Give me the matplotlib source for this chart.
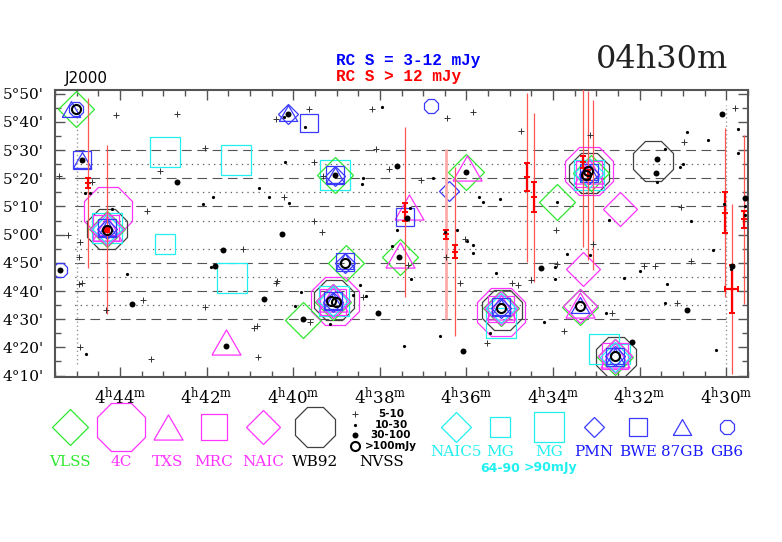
import matplotlib
matplotlib.use('Agg')
import matplotlib.pyplot as plt
from matplotlib.ticker import MultipleLocator, FuncFormatter

plt.rcParams['mathtext.fontset'] = 'dejavuserif'
plt.rcParams['lines.scale_dashes'] = False

# RA in minutes after 4h, Dec in arcmin (5d20' -> 320)
vlss = [(45.02, 344.5), (44.29, 301.9), (39.04, 321.0), (36.01, 322.2), (33.90, 311.5),
        (33.13, 321.8), (39.77, 269.7), (39.08, 276.2), (38.79, 289.8), (37.54, 291.9),
        (35.21, 274.0), (33.38, 274.5), (32.57, 256.7)]
c4 = [(44.27, 308.4), (33.18, 322.7), (39.04, 276.3), (35.20, 272.6)]
wb92 = [(44.29, 302.0), (33.17, 321.7), (31.69, 326.1), (39.06, 276.8), (35.18, 273.4), (32.54, 256.6)]
txs = [(35.99, 323.6), (37.33, 309.8), (41.56, 261.8), (37.54, 292.6), (33.38, 275.0),
       (44.29, 302.5), (39.07, 277.0), (35.21, 274.5), (32.57, 257.3), (33.18, 322.5)]
mrc = [(44.32, 302.2), (39.07, 276.0), (35.21, 273.5), (33.18, 321.5), (32.57, 256.8)]
naic = [(32.46, 309.2), (33.32, 287.9), (44.29, 302.0), (39.07, 276.4), (35.21, 273.8),
        (32.57, 256.8), (33.38, 274.6)]
naic5 = [(44.29, 302.0), (39.07, 276.6), (35.21, 274.0), (33.18, 321.8), (32.57, 256.6)]
mg_64_90 = [(42.95, 296.5), (32.46, 257.8)]
mg_90 = [(42.95, 329.3), (41.31, 326.6), (41.42, 284.6), (39.04, 321.0), (32.82, 259.5),
         (35.21, 268.7), (39.05, 276.5), (33.18, 321.2), (44.29, 302.3)]
pmn = [(40.11, 342.8), (36.41, 315.4), (39.04, 320.8), (44.29, 301.9), (39.07, 276.2),
       (35.21, 274.0), (33.18, 321.6), (32.57, 256.9), (38.80, 290.0)]
bwe = [(44.87, 326.3), (39.63, 339.6), (37.42, 306.1), (39.04, 321.2), (38.80, 290.3),
       (44.29, 302.3), (39.07, 276.6), (35.21, 274.2), (33.18, 321.9), (32.57, 256.5)]
gb87 = [(45.14, 344.5), (44.87, 326.3), (40.11, 343.2), (39.04, 321.3), (38.80, 290.6),
        (44.29, 302.3), (39.07, 276.5), (35.21, 274.3), (33.18, 322.2), (33.38, 274.9), (32.57, 257.1)]
gb6 = [(45.02, 344.5), (36.81, 345.5), (45.38, 287.6)]

# NVSS, by flux class
nvss_5_10 = [(44.10, 342.3), (42.68, 342.8), (42.04, 330.6), (43.08, 322.4), (45.40, 320.8),
             (44.65, 318.7), (43.37, 308.3), (40.40, 341.0), (39.64, 344.6), (38.18, 344.4),
             (36.45, 341.5), (35.85, 343.5), (34.74, 336.8), (33.15, 335.5), (30.98, 332.8),
             (29.81, 345.0), (38.09, 330.2), (39.52, 325.9), (37.79, 323.4), (39.31, 320.8),
             (37.05, 319.4), (39.52, 304.9), (39.33, 300.8), (33.94, 301.7), (31.04, 309.8),
             (45.19, 299.8), (44.92, 297.3), (44.95, 292.1), (44.94, 282.4), (44.88, 282.8),
             (43.46, 276.7), (44.32, 273.2), (44.92, 260.0), (43.29, 255.8), (41.17, 294.8),
             (42.04, 274.2), (40.39, 282.8), (40.37, 283.5), (40.91, 267.0), (40.83, 267.5),
             (40.81, 256.7), (40.21, 313.4), (39.62, 268.9), (38.39, 277.9), (37.36, 289.1),
             (36.48, 292.1), (36.04, 298.3), (36.14, 282.8), (34.96, 282.8), (34.82, 282.0),
             (35.52, 261.6), (33.09, 296.6), (33.92, 289.7), (34.51, 284.0), (33.75, 265.8),
             (32.64, 272.2), (31.91, 288.9), (31.64, 288.9), (30.82, 290.6), (31.15, 275.8)]
nvss_10_30 = [(37.96, 345.1), (39.72, 338.3), (40.21, 341.6), (40.18, 325.6), (38.38, 320.2),
              (38.42, 318.1), (36.77, 320.1), (44.80, 314.6), (44.70, 314.6), (40.78, 316.5),
              (40.56, 313.2), (41.85, 313.2), (42.08, 310.7), (40.09, 311.3), (44.18, 309.1),
              (37.31, 309.4), (37.60, 301.8), (37.72, 296.0), (36.21, 301.7), (36.50, 300.8),
              (35.71, 313.5), (35.62, 311.6), (35.23, 312.5), (31.42, 330.5), (31.61, 318.7),
              (30.90, 336.3), (30.42, 333.5), (29.73, 337.6), (29.73, 328.9), (31.01, 325.0),
              (31.06, 324.0), (33.90, 311.5), (32.71, 305.3), (30.82, 304.9), (30.06, 310.7),
              (29.57, 310.0), (43.83, 285.9), (44.78, 257.6), (41.90, 288.5), (39.96, 274.7),
              (39.81, 279.8), (39.15, 268.2), (38.46, 282.2), (38.62, 278.7), (38.31, 278.4),
              (37.28, 284.4), (37.44, 260.4), (36.61, 263.9), (35.98, 297.6), (35.86, 296.4),
              (35.85, 293.5), (35.32, 286.5), (35.46, 265.1), (33.69, 293.0), (33.15, 292.9),
              (33.96, 288.5), (33.96, 284.4), (34.21, 269.0), (32.79, 272.3), (32.36, 284.6),
              (32.00, 287.1), (31.37, 282.4), (31.42, 275.9), (30.31, 294.6), (30.25, 259.2),
              (29.90, 287.9), (29.57, 306.9)]
nvss_30_100 = [(42.69, 318.5), (37.60, 324.5), (36.01, 322.2), (37.38, 305.8), (40.25, 300.4),
               (39.04, 321.0), (40.11, 342.8), (44.87, 326.3), (45.38, 287.6), (43.72, 275.5),
               (41.61, 294.4), (41.81, 289.0), (40.68, 277.2), (41.56, 260.5), (39.78, 269.9),
               (38.05, 272.1), (37.55, 292.1), (36.09, 258.7), (31.61, 326.7), (31.63, 321.7),
               (30.10, 342.8), (29.58, 312.9), (34.28, 288.2), (30.90, 273.4), (29.86, 289.0),
               (32.18, 261.9)]
nvss_100 = [(45.02, 344.5), (44.29, 301.7), (38.81, 289.9), (39.13, 276.6), (39.02, 276.1),
            (35.21, 274.0), (33.38, 274.6), (32.57, 256.8), (33.19, 322.7), (33.24, 321.0)]

# RATAN RC sources: RA, Dec, Dec error (arcmin)
rc_ra = [44.73, 44.29, 37.42, 36.48, 36.26, 34.61, 34.44, 33.32, 33.19, 33.09, 30.02, 29.88, 29.59]
rc_dec = [318.3, 301.7, 308.0, 300.2, 294.0, 320.4, 313.3, 325.7, 321.1, 317.6, 307.8, 280.7, 305.5]
rc_err = [1.8, 0.6, 3.2, 1.6, 2.3, 5.1, 5.3, 2.1, 1.8, 0.0, 7.4, 8.5, 3.0]
rc_ra_err = [0, 0, 0, 0, 0, 0, 0, 0, 0, 0, 0, 0.15, 0]
rc_faint = [False, False, False, True, False, False, False, False, False, False, False, False, False]
rc_beam = 30.0

strip_dashed = [330, 320, 310, 290, 280, 270]
strip_dotted = [325, 315, 305, 295, 285, 275]

GREEN = '#2ee82e'
MAGENTA = '#ff33ff'
CYAN = '#22f0f0'
BLUE = '#3a3aff'
GREY = '#404040'
TRI = [(-1, -0.866), (1, -0.866), (0, 0.866), (-1, -0.866)]

# name, label, points, marker, size, colour, legend x, label y
catalogs = [
    ('4C', '4C', c4, '8', 37.4, MAGENTA, 121, 462),
    ('WB92', 'WB92', wb92, '8', 30.7, GREY, 315, 462),
    ('MG2', 'MG', mg_90, 's', 21.6, CYAN, 549, 452),
    ('MG1', 'MG', mg_64_90, 's', 14.9, CYAN, 500, 452),
    ('VLSS', 'VLSS', vlss, 'D', 18.3, GREEN, 70, 462),
    ('TXS', 'TXS', txs, TRI, 20.9, MAGENTA, 168, 462),
    ('MRC', 'MRC', mrc, 's', 18.4, MAGENTA, 214, 462),
    ('NAIC', 'NAIC', naic, 'D', 17.0, MAGENTA, 263, 462),
    ('NAIC5', 'NAIC5', naic5, 'D', 15.3, CYAN, 456, 452),
    ('PMN', 'PMN', pmn, 'D', 10.5, BLUE, 594, 452),
    ('BWE', 'BWE', bwe, 's', 12.5, BLUE, 638, 452),
    ('87GB', '87GB', gb87, TRI, 13.2, BLUE, 682, 452),
    ('GB6', 'GB6', gb6, '8', 10.9, BLUE, 727, 452),
]

fig = plt.figure(figsize=(7.82, 5.42), dpi=100)
ax = fig.add_axes([55 / 782, 1 - 377 / 542, 693 / 782, 287 / 542])
ax.set_xlim(45.5, 29.5)
ax.set_ylim(249.5, 351.3)

ax.hlines(strip_dashed, 30.0, 45.05, colors='#555555', linewidth=0.8, linestyles=(0, (7, 4)), zorder=1)
ax.hlines(strip_dotted, 30.0, 45.05, colors='#666666', linewidth=0.9, linestyles=(0, (1, 3)), zorder=1)
ax.vlines([45.0, 30.0], 254, 346, colors='#999999', linewidth=1.0, linestyles=(0, (1, 2)), zorder=1)

for name, label, pts, marker, size, col, lx, ly in catalogs:
    xs = [p[0] for p in pts]
    ys = [p[1] for p in pts]
    ax.plot(xs, ys, linestyle='none', marker=marker, ms=size, mfc='none',
            mec=col, mew=0.9, zorder=2)

for i in range(len(rc_ra)):
    line_col = '#ffaaaa' if rc_faint[i] else '#ff5555'
    ax.vlines(rc_ra[i], rc_dec[i] - rc_beam, rc_dec[i] + rc_beam,
              colors=line_col, linewidth=2.0 if rc_faint[i] else 0.9, zorder=3)
    if rc_err[i] > 0:
        ax.errorbar(rc_ra[i], rc_dec[i], yerr=rc_err[i], xerr=rc_ra_err[i] or None,
                    fmt='none', ecolor='red', elinewidth=1.6, capsize=2.5, capthick=1.4, zorder=4)
        ax.plot(rc_ra[i], rc_dec[i], marker='_', ms=5, mew=1.4, color='red', zorder=4)

def xy(pts):
    return [p[0] for p in pts], [p[1] for p in pts]

ax.plot(*xy(nvss_5_10), linestyle='none', marker='+', ms=4.5, mew=0.7, color='#333333', zorder=5)
ax.plot(*xy(nvss_10_30), linestyle='none', marker='o', ms=2.3, mew=0, color='black', zorder=5)
ax.plot(*xy(nvss_30_100), linestyle='none', marker='o', ms=4.3, mew=0, color='black', zorder=5)
ax.plot(*xy(nvss_100), linestyle='none', marker='o', ms=6.5, mfc='none', mec='black', mew=1.5, zorder=6)
ax.plot(rc_ra[1], rc_dec[1], marker='o', ms=3.5, mew=0, color='red', zorder=7)

ax.xaxis.set_major_locator(MultipleLocator(2))
ax.xaxis.set_minor_locator(MultipleLocator(0.5))
ax.yaxis.set_major_locator(MultipleLocator(10))
ax.yaxis.set_minor_locator(MultipleLocator(5))
ax.xaxis.set_major_formatter(FuncFormatter(lambda v, p: r'$4^{\rm h}%d^{\rm m}$' % round(v)))
ax.yaxis.set_major_formatter(FuncFormatter(lambda v, p: "%d\u00b0%02d'" % (int(v // 60), int(round(v % 60)))))
ax.tick_params(which='both', direction='in', top=True, right=True, color='#555555', width=1.0)
ax.tick_params(which='major', length=7)
ax.tick_params(which='minor', length=4.5)
ax.tick_params(axis='x', labelsize=12, pad=7)
ax.tick_params(axis='y', labelsize=11, pad=8)
for lab in ax.get_yticklabels():
    lab.set_family('DejaVu Serif')
for sp in ax.spines.values():
    sp.set_color('#555555')
    sp.set_linewidth(1.5)

# overlay in pixel units for header and legend
ov = fig.add_axes([0, 0, 1, 1], zorder=10)
ov.set_xlim(0, 782)
ov.set_ylim(542, 0)
ov.axis('off')
ov.patch.set_visible(False)

ov.text(65, 79, 'J2000', fontsize=11, family='DejaVu Sans', va='center', ha='left')
ov.text(336, 61, 'RC S = 3-12 mJy', fontsize=11.5, family='Liberation Mono', weight='bold',
        color='blue', va='center', ha='left')
ov.text(336, 76, 'RC S > 12 mJy', fontsize=11.5, family='Liberation Mono', weight='bold',
        color='red', va='center', ha='left')
ov.text(662, 60, '04h30m', fontsize=23, family='DejaVu Serif', va='center', ha='center',
        color='#222222')

for name, label, pts, marker, size, col, lx, ly in catalogs:
    ov.plot(lx, 427, marker=marker, ms=size, mfc='none', mec=col, mew=0.9)
    tcol = 'black' if name == 'WB92' else col
    if col == BLUE:
        tcol = '#1a1aff'
    ov.text(lx, ly, label, fontsize=11, family='DejaVu Serif', color=tcol, ha='center', va='center')
ov.text(500, 468, '64-90', fontsize=9, family='DejaVu Sans', weight='bold', color=CYAN, ha='center', va='center')
ov.text(550, 468, '>90mJy', fontsize=9, family='DejaVu Sans', weight='bold', color=CYAN, ha='center', va='center')

ov.plot(355, 414, marker='+', ms=4.5, mew=0.7, color='#333333')
ov.plot(355, 424.5, marker='o', ms=2.3, mew=0, color='black')
ov.plot(355, 435, marker='o', ms=4.3, mew=0, color='black')
ov.plot(355, 446, marker='o', ms=6.5, mfc='none', mec='black', mew=1.5)
for ty, txt in zip([414, 424.5, 435, 446], ['5-10', '10-30', '30-100', '>100mJy']):
    ov.text(391, ty, txt, fontsize=7.5, family='DejaVu Sans', weight='bold', ha='center', va='center')
ov.text(382, 462, 'NVSS', fontsize=11, family='DejaVu Serif', ha='center', va='center')

fig.savefig('out.png', dpi=100)
